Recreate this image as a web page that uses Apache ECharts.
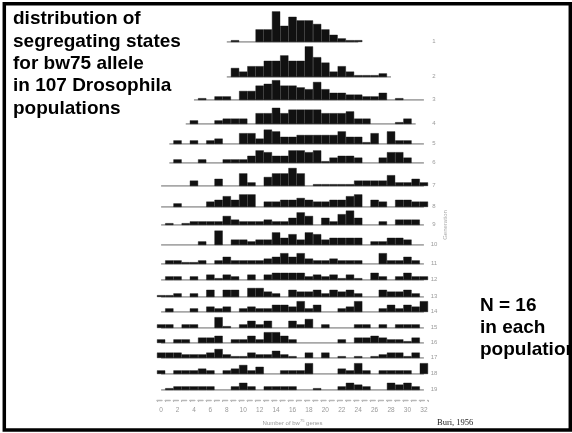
<!DOCTYPE html>
<html><head><meta charset="utf-8">
<script src="https://cdn.jsdelivr.net/npm/echarts@6/dist/echarts.min.js"></script>
<style>html,body{margin:0;padding:0;background:#fff}#c{width:572px;height:433px}</style>
</head><body><div id="c"></div>
<script>
// ---------- data ----------
const categories = ['0','1','2','3','4','5','6','7','8','9','10','11','12','13','14','15','16','17','18','19','20','21','22','23','24','25','26','27','28','29','30','31','32'];
const tickLabels = ['0','2','4','6','8','10','12','14','16','18','20','22','24','26','28','30','32'];
const rowLabels = ['1','2','3','4','5','6','7','8','9','10','11','12','13','14','15','16','17','18','19'];

// number of populations in each class (0..32 bw75 genes), one array per generation
const gen1  = [0,0,0,0,0,0,0,0,0,1, 0,0,7,7,17,9,14,12,12,10, 7,4,2,1,1,0,0,0,0,0, 0,0,0];
const gen2  = [0,0,0,0,0,0,0,0,0,5, 3,6,6,9,9,12,9,9,17,11, 8,3,6,3,1,1,1,2,0,0, 0,0,0];
const gen3  = [0,0,0,0,0,1,0,2,2,0, 5,5,8,9,11,8,8,7,6,10, 6,4,4,3,3,2,2,4,0,1, 0,0,0];
const gen4  = [0,0,0,0,2,0,0,2,3,3, 3,0,6,6,9,6,8,8,8,8, 6,6,6,7,3,3,0,0,0,1, 3,0,0];
const gen5  = [0,0,2,0,2,0,2,3,0,0, 6,6,3,8,7,4,4,5,5,5, 5,5,7,4,4,1,6,0,7,2, 2,0,0];
const gen6  = [0,0,2,0,0,2,0,0,2,2, 2,4,7,6,4,4,7,7,6,7, 1,3,4,4,3,0,0,3,6,6, 3,0,0];
const gen7  = [0,0,0,0,3,0,0,4,0,0, 7,2,0,5,7,7,10,7,0,1, 1,1,1,1,3,3,3,3,6,2, 2,4,2];
const gen8  = [0,0,2,0,0,0,3,4,6,4, 7,7,0,3,3,4,4,5,4,3, 3,4,4,6,7,0,4,3,0,4, 4,3,3];
const gen9  = [0,1,0,1,2,2,2,2,5,3, 2,2,2,3,2,2,4,7,5,0, 4,2,6,8,4,0,0,2,0,3, 3,3,0];
const gen10 = [0,0,0,0,0,2,0,8,0,3, 3,2,3,3,7,4,6,3,7,6, 3,4,4,4,4,0,2,2,4,4, 3,0,0];
const gen11 = [0,2,2,1,1,2,0,2,4,2, 2,2,2,3,4,6,4,6,3,2, 2,3,2,2,2,0,0,6,2,2, 4,2,0];
const gen12 = [0,2,2,0,2,0,3,1,3,2, 0,3,0,3,4,4,4,4,2,3, 2,3,1,3,1,0,4,2,0,2, 4,2,2];
const gen13 = [1,1,2,0,2,0,4,0,4,4, 0,5,5,3,2,0,4,3,3,4, 2,4,3,4,2,0,0,4,3,3, 4,2,0];
const gen14 = [0,2,0,0,2,0,3,2,3,0, 2,3,2,2,4,4,3,6,2,4, 0,0,2,3,6,0,0,2,4,2, 4,3,6];
const gen15 = [2,2,0,2,2,0,0,6,1,0, 2,4,2,4,0,0,4,2,5,0, 2,0,0,0,2,2,0,2,0,2, 2,2,0];
const gen16 = [2,0,2,2,0,3,3,4,0,2, 2,4,2,6,6,4,2,0,0,0, 0,0,2,0,3,3,4,3,2,2, 1,3,0];
const gen17 = [3,3,3,2,2,2,3,5,2,1, 1,3,2,2,4,2,1,0,3,0, 3,0,1,0,1,0,1,2,3,3, 1,3,0];
const gen18 = [2,0,2,2,2,3,2,0,2,3, 5,2,4,0,0,2,2,2,6,0, 0,0,3,2,6,2,0,2,2,2, 2,0,6];
const gen19 = [0,1,2,2,2,2,2,0,0,2, 4,2,0,2,2,2,2,0,0,1, 0,0,2,4,3,2,0,0,4,3, 4,2,0];
const generations = [gen1,gen2,gen3,gen4,gen5,gen6,gen7,gen8,gen9,gen10,gen11,gen12,gen13,gen14,gen15,gen16,gen17,gen18,gen19];

// class range covered by each generation's base line (first, last class)
const spanFirst = [8,8,4,3,1,1,0,0,0,0,0,0,0,0,0,0,0,0,0];
const spanLast  = [24,28,32,31,32,32,32,32,32,32,32,32,32,32,32,32,32,32,32];

// ---------- layout ----------
const rowBase = [42,77,100,124,144,163,186,207,225,245,264,280,297,312,328,343,358,374,390];
const plotLeft = 157, plotWidth = 271, rowH = 40, pxPerCount = 1.8;
const FONT = '"Liberation Sans", Arial, Helvetica, sans-serif';

const grids = [], xAxes = [], yAxes = [], series = [], graphics = [];
generations.forEach((g, i) => {
  grids.push({left: plotLeft, width: plotWidth, top: rowBase[i] - rowH, height: rowH});
  xAxes.push({type: 'category', gridIndex: i, data: categories, boundaryGap: true, show: false});
  yAxes.push({type: 'value', gridIndex: i, min: 0, max: rowH / pxPerCount, show: false});
  series.push({
    type: 'line', xAxisIndex: i, yAxisIndex: i, silent: true, z: 1,
    data: categories.map((c, k) => (k >= spanFirst[i] && k <= spanLast[i]) ? 0 : null),
    showSymbol: false, symbol: 'none',
    lineStyle: {color: '#8c8c8c', width: 1.6}
  });
  series.push({
    type: 'bar', xAxisIndex: i, yAxisIndex: i, silent: true, z: 2,
    data: g.map(v => v === 0 ? null : v),
    barCategoryGap: '0%', barGap: '0%',
    itemStyle: {color: '#111', borderColor: '#111', borderWidth: 0.4}
  });
  graphics.push({
    type: 'text', x: 434, y: rowBase[i] - 1, silent: true,
    style: {text: rowLabels[i], fontSize: 6, fontFamily: FONT, fill: '#9a9a9a', align: 'center', verticalAlign: 'middle'}
  });
});

// bottom axis
const ai = generations.length;
grids.push({left: plotLeft, width: plotWidth, top: 380, height: 20});
xAxes.push({
  type: 'category', gridIndex: ai, data: categories, boundaryGap: true, position: 'bottom',
  axisLine: {show: true, lineStyle: {color: '#b8b8b8', width: 1.4, type: [5, 3.2]}},
  axisTick: {show: true, interval: 0, length: 2, lineStyle: {color: '#bbb'}},
  axisLabel: {interval: (idx, val) => tickLabels.includes(val), fontSize: 6.5, color: '#999', margin: 7, fontFamily: FONT},
  name: 'Number of bw{s|75} genes', nameLocation: 'middle', nameGap: 19,
  nameTextStyle: {fontSize: 6, color: '#999', fontFamily: FONT, rich: {s: {fontSize: 4, color: '#999', verticalAlign: 'top', padding: [0,0,4,0]}}}
});
yAxes.push({type: 'value', gridIndex: ai, show: false});

graphics.push(
  {type: 'text', x: 445, y: 225, rotation: Math.PI / 2, silent: true,
   style: {text: 'Generation', fontSize: 6, fontFamily: FONT, fill: '#aaa', align: 'center', verticalAlign: 'middle'}},
  {type: 'text', left: 13, top: 8, silent: true, z: 50,
   style: {text: 'distribution of\nsegregating states\nfor bw75 allele\nin 107 Drosophila\npopulations',
           fontSize: 19, fontWeight: 'bold', fontFamily: FONT, lineHeight: 22.3, fill: '#000'}},
  {type: 'text', left: 480, top: 295, silent: true, z: 50,
   style: {text: 'N = 16\nin each\npopulation', fontSize: 19, fontWeight: 'bold', fontFamily: FONT, lineHeight: 22, fill: '#000'}},
  {type: 'text', left: 437, top: 418, silent: true, z: 50,
   style: {text: 'Buri, 1956', fontSize: 8.5, fontFamily: '"Liberation Serif", "Times New Roman", serif', fill: '#222'}},
  {type: 'rect', silent: true, z: 100,
   shape: {x: 4.3, y: 3.7, width: 566, height: 426.3},
   style: {fill: 'none', stroke: '#000', lineWidth: 3.5}}
);

const chart = echarts.init(document.getElementById('c'), null, {renderer: 'canvas'});
chart.setOption({
  backgroundColor: '#fff',
  animation: false,
  grid: grids, xAxis: xAxes, yAxis: yAxes, series: series,
  graphic: graphics
});
</script></body></html>
